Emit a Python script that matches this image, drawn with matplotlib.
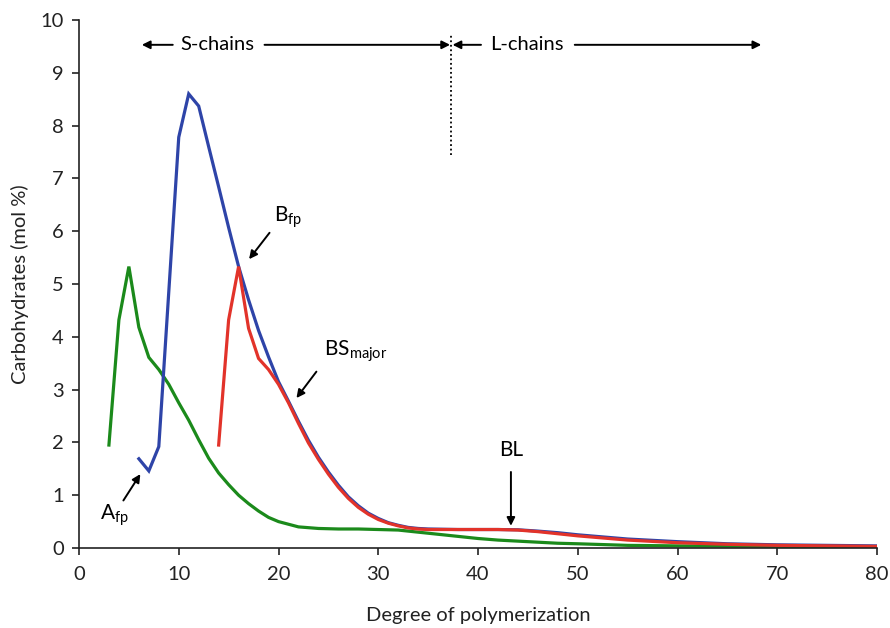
import matplotlib
matplotlib.use("Agg")
import matplotlib.pyplot as plt

plt.rcParams['font.family'] = ['Lato', 'DejaVu Sans']
plt.rcParams['mathtext.fontset'] = 'custom'
plt.rcParams['mathtext.rm'] = 'Lato'
plt.rcParams['mathtext.it'] = 'Lato'

# Green series (A fingerprint + smooth tail)
green_x = [3, 4, 5, 6, 7, 8, 9, 10, 11, 12, 13, 14, 15, 16, 17, 18, 19, 20, 22, 24, 26, 28,
           30, 32, 34, 36, 38, 40, 42, 44, 46, 48, 50, 55, 60, 70, 80]
green_y = [1.95, 4.32, 5.33, 4.18, 3.61, 3.38, 3.10, 2.75, 2.42, 2.05, 1.70, 1.42, 1.20, 1.00,
           0.84, 0.70, 0.58, 0.50, 0.40, 0.37, 0.36, 0.36, 0.35, 0.34, 0.30, 0.26, 0.22, 0.18,
           0.15, 0.13, 0.11, 0.09, 0.08, 0.05, 0.04, 0.03, 0.02]

# Blue series
blue_x = [6, 7, 8, 10, 11, 12, 13, 14, 15, 16, 17, 18, 19, 20, 21, 22, 23, 24, 25, 26, 27, 28,
          29, 30, 31, 32, 33, 34, 35, 38, 42, 44, 46, 48, 50, 55, 60, 65, 70, 75, 80]
blue_y = [1.69, 1.46, 1.92, 7.78, 8.60, 8.37, 7.60, 6.84, 6.07, 5.33, 4.70, 4.12, 3.62, 3.15,
          2.78, 2.40, 2.04, 1.72, 1.44, 1.19, 0.97, 0.80, 0.66, 0.56, 0.48, 0.43, 0.39, 0.37,
          0.36, 0.35, 0.35, 0.345, 0.32, 0.29, 0.25, 0.17, 0.12, 0.08, 0.06, 0.05, 0.04]

# Red series
red_x = [14, 15, 16, 17, 18, 19, 20, 21, 22, 23, 24, 25, 26, 27, 28, 29, 30, 31, 32, 33, 34,
         35, 38, 42, 44, 46, 48, 50, 55, 60, 65, 70, 75, 80]
red_y = [1.95, 4.32, 5.33, 4.16, 3.59, 3.38, 3.10, 2.75, 2.36, 1.99, 1.68, 1.40, 1.15, 0.94,
         0.77, 0.64, 0.54, 0.47, 0.42, 0.38, 0.36, 0.35, 0.35, 0.35, 0.34, 0.31, 0.27, 0.23,
         0.15, 0.10, 0.07, 0.05, 0.04, 0.03]

x_ticks = [0, 10, 20, 30, 40, 50, 60, 70, 80]
y_ticks = [0, 1, 2, 3, 4, 5, 6, 7, 8, 9, 10]

GREEN = '#1b8a1b'
BLUE = '#2e44a8'
RED = '#e2332a'
FS = 14.5

fig = plt.figure(figsize=(8.9, 6.28), dpi=100)
ax = fig.add_axes([79/890, (628-548)/628, (877-79)/890, (548-20)/628])

ax.plot(green_x, green_y, color=GREEN, lw=2.3, solid_joinstyle='miter')
ax.plot(blue_x, blue_y, color=BLUE, lw=2.3, solid_joinstyle='miter')
ax.plot(red_x, red_y, color=RED, lw=2.3, solid_joinstyle='miter')

ax.set_xlim(0, 80)
ax.set_ylim(0, 10)
ax.set_xticks(x_ticks)
ax.set_yticks(y_ticks)
for s in ['top', 'right']:
    ax.spines[s].set_visible(False)
for s in ['left', 'bottom']:
    ax.spines[s].set_linewidth(1.2)
    ax.spines[s].set_color('#222222')
ax.tick_params(direction='out', length=5, width=1.2, labelsize=FS, colors='#222222')
ax.tick_params(axis='x', pad=8)
ax.tick_params(axis='y', pad=6)
ax.set_xlabel('Degree of polymerization', fontsize=FS, labelpad=17, color='#222222')
ax.set_ylabel('Carbohydrates (mol %)', fontsize=FS, labelpad=8, color='#222222')

arrow = dict(arrowstyle='-|>', color='black', lw=1.4, mutation_scale=12, shrinkA=0, shrinkB=0)
ya = 9.53
# S-chains
ax.annotate('', xy=(6.3, ya), xytext=(9.4, ya), arrowprops=arrow)
ax.text(13.9, ya, 'S-chains', ha='center', va='center', fontsize=FS)
ax.annotate('', xy=(37.2, ya), xytext=(18.6, ya), arrowprops=arrow)
# L-chains
ax.annotate('', xy=(37.45, ya), xytext=(40.3, ya), arrowprops=arrow)
ax.text(44.9, ya, 'L-chains', ha='center', va='center', fontsize=FS)
ax.annotate('', xy=(68.4, ya), xytext=(49.7, ya), arrowprops=arrow)
ax.plot([37.3, 37.3], [7.45, 9.72], color='black', lw=1.3, ls=(0, (1, 1.5)))

# Point annotations
ax.annotate('', xy=(6.15, 1.40), xytext=(4.45, 0.90), arrowprops=arrow)
ax.text(3.6, 0.62, r'A$_{\mathrm{fp}}$', ha='center', va='center', fontsize=15)
ax.annotate('', xy=(17.05, 5.47), xytext=(19.1, 5.97), arrowprops=arrow)
ax.text(21.0, 6.27, r'B$_{\mathrm{fp}}$', ha='center', va='center', fontsize=15)
ax.annotate('', xy=(21.8, 2.84), xytext=(23.8, 3.34), arrowprops=arrow)
ax.text(24.6, 3.72, r'BS$_{\mathrm{major}}$', ha='left', va='center', fontsize=15)
ax.annotate('', xy=(43.3, 0.42), xytext=(43.3, 1.44), arrowprops=arrow)
ax.text(43.3, 1.85, 'BL', ha='center', va='center', fontsize=15)

fig.savefig('out.png', dpi=100)
